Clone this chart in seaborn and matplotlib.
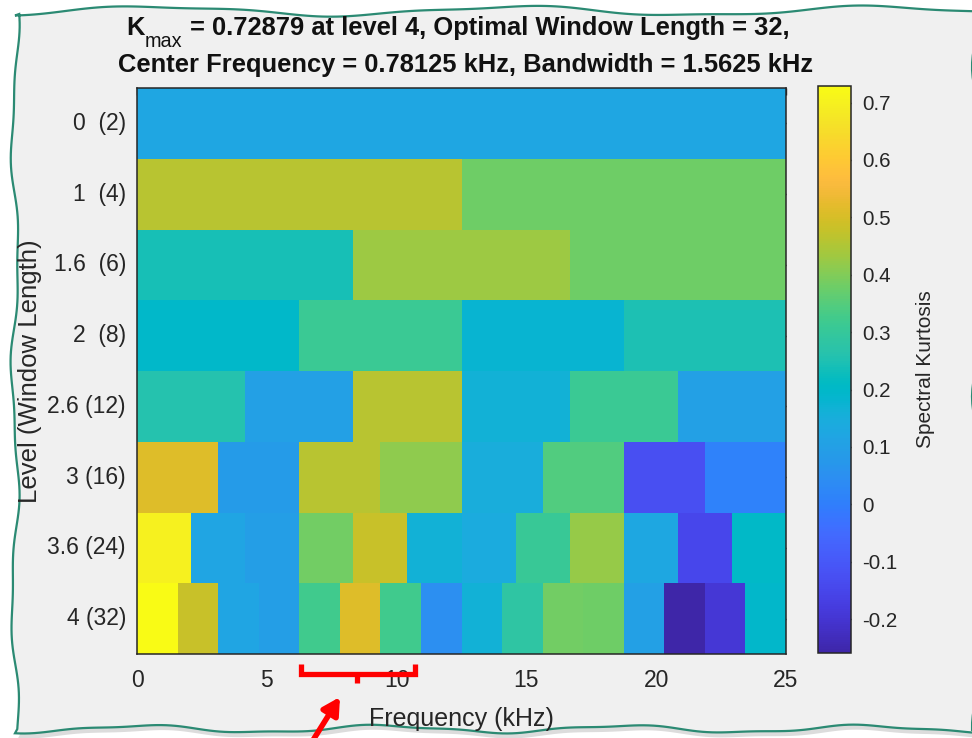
import numpy as np
import matplotlib
matplotlib.use("Agg")
import matplotlib.pyplot as plt
from matplotlib.colors import LinearSegmentedColormap
from matplotlib.patches import Polygon
import seaborn as sns

# ---- data -------------------------------------------------------------
level_labels = ['0  (2)', '1  (4)', '1.6  (6)', '2  (8)',
                '2.6 (12)', '3 (16)', '3.6 (24)', '4 (32)']

sk_level0 = [0.12]
sk_level1 = [0.46, 0.38]
sk_level1_6 = [0.24, 0.43, 0.38]
sk_level2 = [0.20, 0.31, 0.18, 0.25]
sk_level2_6 = [0.26, 0.10, 0.46, 0.165, 0.31, 0.10]
sk_level3 = [0.51, 0.086, 0.46, 0.415, 0.15, 0.345, -0.126, 0.008]
sk_level3_6 = [0.70, 0.117, 0.094, 0.384, 0.478, 0.165, 0.14, 0.306,
               0.423, 0.125, -0.149, 0.204]
sk_level4 = [0.72879, 0.478, 0.117, 0.094, 0.322, 0.51, 0.322, 0.047,
             0.165, 0.282, 0.384, 0.38, 0.10, -0.259, -0.196, 0.196]

freq_max_khz = 25.0
freq_ticks = [0, 5, 10, 15, 20, 25]
cbar_ticks = [-0.2, -0.1, 0, 0.1, 0.2, 0.3, 0.4, 0.5, 0.6, 0.7]

levels = [sk_level0, sk_level1, sk_level1_6, sk_level2,
          sk_level2_6, sk_level3, sk_level3_6, sk_level4]

# every level spans the full band; spread each level onto a common grid
n_cols = 48
grid = np.array([np.repeat(v, n_cols // len(v)) for v in levels])
vmin, vmax = grid.min(), grid.max()

# ---- parula colormap ---------------------------------------------------
parula_rgb = [
    [0.2422, 0.1504, 0.6603], [0.2504, 0.1650, 0.7076], [0.2578, 0.1818, 0.7511],
    [0.2647, 0.1978, 0.7952], [0.2706, 0.2147, 0.8364], [0.2751, 0.2342, 0.8710],
    [0.2783, 0.2559, 0.8991], [0.2803, 0.2782, 0.9221], [0.2813, 0.3006, 0.9414],
    [0.2810, 0.3228, 0.9579], [0.2795, 0.3447, 0.9717], [0.2760, 0.3667, 0.9829],
    [0.2699, 0.3892, 0.9906], [0.2602, 0.4123, 0.9952], [0.2440, 0.4358, 0.9988],
    [0.2206, 0.4603, 0.9973], [0.1963, 0.4847, 0.9892], [0.1834, 0.5074, 0.9798],
    [0.1786, 0.5289, 0.9682], [0.1764, 0.5499, 0.9520], [0.1687, 0.5703, 0.9359],
    [0.1540, 0.5902, 0.9218], [0.1460, 0.6091, 0.9079], [0.1380, 0.6276, 0.8973],
    [0.1248, 0.6459, 0.8883], [0.1113, 0.6635, 0.8763], [0.0952, 0.6798, 0.8598],
    [0.0689, 0.6948, 0.8394], [0.0297, 0.7082, 0.8163], [0.0036, 0.7203, 0.7917],
    [0.0067, 0.7312, 0.7660], [0.0433, 0.7411, 0.7394], [0.0964, 0.7500, 0.7120],
    [0.1408, 0.7584, 0.6842], [0.1717, 0.7670, 0.6554], [0.1938, 0.7758, 0.6251],
    [0.2161, 0.7843, 0.5923], [0.2470, 0.7918, 0.5567], [0.2906, 0.7973, 0.5188],
    [0.3406, 0.8008, 0.4789], [0.3909, 0.8029, 0.4354], [0.4456, 0.8024, 0.3909],
    [0.5044, 0.7993, 0.3480], [0.5616, 0.7942, 0.3045], [0.6174, 0.7876, 0.2612],
    [0.6720, 0.7793, 0.2227], [0.7242, 0.7698, 0.1910], [0.7738, 0.7598, 0.1646],
    [0.8203, 0.7498, 0.1535], [0.8634, 0.7406, 0.1596], [0.9035, 0.7330, 0.1774],
    [0.9393, 0.7288, 0.2100], [0.9728, 0.7298, 0.2394], [0.9956, 0.7434, 0.2371],
    [0.9970, 0.7659, 0.2199], [0.9952, 0.7893, 0.2028], [0.9892, 0.8136, 0.1885],
    [0.9786, 0.8386, 0.1766], [0.9676, 0.8639, 0.1643], [0.9610, 0.8890, 0.1537],
    [0.9597, 0.9135, 0.1423], [0.9628, 0.9373, 0.1265], [0.9691, 0.9606, 0.1064],
    [0.9769, 0.9839, 0.0805]]
parula = LinearSegmentedColormap.from_list("parula", parula_rgb, N=256)

# ---- style -------------------------------------------------------------
sns.set_style("white")
plt.rcParams['font.family'] = ['Liberation Sans', 'DejaVu Sans']
plt.rcParams['axes.unicode_minus'] = False

W, H = 972, 738
ink = '#262626'
panel = '#f0f0f0'

fig = plt.figure(figsize=(W / 100, H / 100), dpi=100, facecolor='white')


def px_rect(x0, y0, x1, y1):
    return [x0 / W, 1 - y1 / H, (x1 - x0) / W, (y1 - y0) / H]


# torn-paper panel behind the figure content
ax_bg = fig.add_axes([0, 0, 1, 1], zorder=0)
ax_bg.set_xlim(0, W)
ax_bg.set_ylim(H, 0)
ax_bg.axis('off')

xs = np.linspace(15, 985, 200)
top = 11 + 4.5 * np.sin(2 * np.pi * xs / 360 + 2.0) + 1.2 * np.sin(2 * np.pi * xs / 150 + 0.4)
ys = np.linspace(14, 729, 160)
left = 15 + 3.5 * np.sin(2 * np.pi * ys / 230 + 0.8) + 1.2 * np.sin(2 * np.pi * ys / 95)
xb = np.linspace(985, 15, 200)
bottom = 729 + 3.5 * np.sin(2 * np.pi * xb / 240 + 1.0) + 1.0 * np.sin(2 * np.pi * xb / 97)
right_y = np.linspace(12, 730, 100)
right = 978 - 6 * np.clip(np.sin(2 * np.pi * right_y / 330 + 0.3), 0, 1) ** 6

outline = np.vstack([
    np.column_stack([xs, top]),
    np.column_stack([right, right_y]),
    np.column_stack([xb, bottom]),
    np.column_stack([left, ys])[::-1],
])
ax_bg.add_patch(Polygon(outline + [3, 5], closed=True, facecolor='#dcdcdc',
                        edgecolor='none'))
ax_bg.add_patch(Polygon(outline, closed=True, facecolor=panel,
                        edgecolor='#2b8a73', linewidth=1.6))

# ---- kurtogram ---------------------------------------------------------
ax = fig.add_axes(px_rect(137, 88, 786, 654), zorder=2)
cax = fig.add_axes(px_rect(818, 86, 851, 653), zorder=2)

sns.heatmap(grid, ax=ax, cbar_ax=cax, cmap=parula, vmin=vmin, vmax=vmax,
            xticklabels=False, yticklabels=level_labels, linewidths=0)

ax.set_xticks(np.array(freq_ticks) * n_cols / freq_max_khz)
ax.set_xticklabels([str(f) for f in freq_ticks])
ax.set_yticks(np.arange(len(levels)) + 0.5)
ax.set_yticklabels(level_labels, rotation=0)
ax.tick_params(axis='both', direction='in', length=5, width=1.0, color=ink,
               labelcolor=ink, labelsize=16.5, top=True, right=True,
               labeltop=False, labelright=False)
ax.tick_params(axis='x', pad=11)
ax.tick_params(axis='y', pad=8)
for s in ax.spines.values():
    s.set_visible(True)
    s.set_color(ink)
    s.set_linewidth(1.1)

ax.set_xlabel('Frequency (kHz)', fontsize=18, color=ink)
ax.set_ylabel('Level (Window Length)', fontsize=18.5, color=ink)
ax.xaxis.set_label_coords(0.5, -0.094)
ax.yaxis.set_label_coords(-0.147, 0.5)

cbar = ax.collections[0].colorbar
cbar.set_ticks(cbar_ticks)
cbar.set_ticklabels([f'{t:g}' for t in cbar_ticks])
cbar.outline.set_linewidth(1.1)
cbar.outline.set_edgecolor(ink)
cax.tick_params(direction='in', length=5, width=1.0, color=ink,
                labelcolor=ink, labelsize=14.8, pad=8)
cbar.set_label('Spectral Kurtosis', fontsize=15, color=ink)
cax.yaxis.set_label_coords(2.97, 0.5)

# ---- two-line title, first line with a K_max subscript -----------------
title_color = '#111111'
title_size = 18.4
renderer = fig.canvas.get_renderer()
parts = [
    ('K', dict(fontsize=title_size, fontweight='bold'), 0),
    ('max', dict(fontsize=title_size * 0.78, fontweight='normal'), 12),
    (' = 0.72879 at level 4, Optimal Window Length = 32,',
     dict(fontsize=title_size, fontweight='bold'), 0),
]
widths = []
for s, kw, _ in parts:
    t = fig.text(0, 0, s, **kw)
    widths.append(t.get_window_extent(renderer).width)
    t.remove()
x = 458 - sum(widths) / 2
base_y = 35
for (s, kw, dy), w in zip(parts, widths):
    fig.text(x / W, 1 - (base_y + dy) / H, s, ha='left', va='baseline',
             color=title_color, **kw)
    x += w
fig.text(465 / W, 1 - 65 / H,
         'Center Frequency = 0.78125 kHz, Bandwidth = 1.5625 kHz',
         ha='center', va='center', fontsize=title_size, fontweight='bold',
         color=title_color)

# ---- red bracket and arrow --------------------------------------------
ax_top = fig.add_axes([0, 0, 1, 1], zorder=5)
ax_top.set_xlim(0, W)
ax_top.set_ylim(H, 0)
ax_top.axis('off')
ax_top.patch.set_alpha(0)
ax_top.plot([301, 301, 415, 415], [664, 674, 674, 664], color='red', lw=3.8,
            solid_joinstyle='miter', solid_capstyle='butt')
ax_top.plot([357, 357], [674, 683], color='red', lw=3.8, solid_capstyle='butt')
ax_top.annotate('', xy=(340, 697), xytext=(310, 745),
                arrowprops=dict(arrowstyle='-|>,head_length=1.0,head_width=0.55',
                                color='red', lw=4.0, shrinkA=0, shrinkB=0),
                annotation_clip=False)

fig.savefig('out.png', dpi=100, facecolor='white')
